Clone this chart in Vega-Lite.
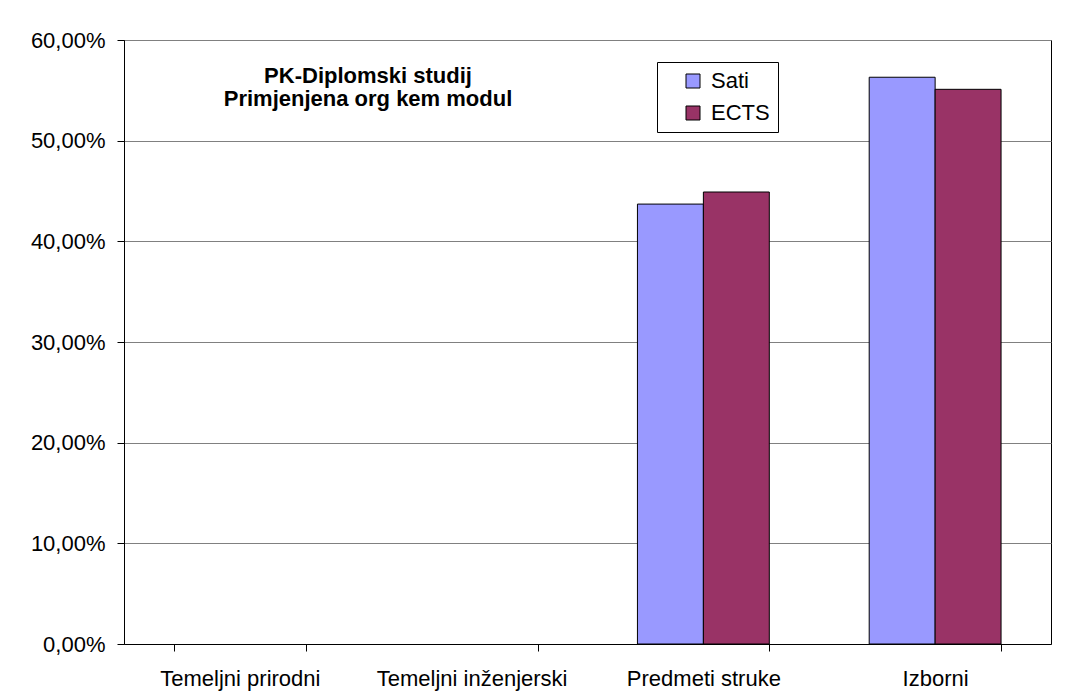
{
  "$schema": "https://vega.github.io/schema/vega-lite/v6.json",
  "width": 927,
  "height": 604,
  "autosize": {"type": "none"},
  "padding": {"left": 124, "top": 40, "right": 16, "bottom": 53},
  "background": "white",
  "config": {
    "locale": {"number": {"decimal": ",", "thousands": ".", "grouping": [3], "currency": ["", " kn"]}},
    "font": "Liberation Sans",
    "view": {"stroke": "black", "strokeWidth": 1}
  },
  "title": {
    "text": ["PK-Diplomski studij", "Primjenjena org kem modul"],
    "anchor": "start",
    "frame": "group",
    "align": "center",
    "dx": 244,
    "orient": "top",
    "baseline": "top",
    "offset": 0,
    "dy": 82,
    "fontSize": 22,
    "fontWeight": "bold",
    "lineHeight": 23,
    "color": "black",
    "font": "Liberation Sans"
  },
  "data": {
    "values": [
      {"kategorija": "Temeljni prirodni", "serija": "Sati", "udio": 0},
      {"kategorija": "Temeljni prirodni", "serija": "ECTS", "udio": 0},
      {"kategorija": "Temeljni inženjerski", "serija": "Sati", "udio": 0},
      {"kategorija": "Temeljni inženjerski", "serija": "ECTS", "udio": 0},
      {"kategorija": "Predmeti struke", "serija": "Sati", "udio": 0.437},
      {"kategorija": "Predmeti struke", "serija": "ECTS", "udio": 0.449},
      {"kategorija": "Izborni", "serija": "Sati", "udio": 0.563},
      {"kategorija": "Izborni", "serija": "ECTS", "udio": 0.551}
    ]
  },
  "mark": {"type": "bar", "stroke": "black", "strokeWidth": 1, "opacity": 1},
  "encoding": {
    "x": {
      "field": "kategorija",
      "type": "nominal",
      "sort": ["Temeljni prirodni", "Temeljni inženjerski", "Predmeti struke", "Izborni"],
      "scale": {"paddingInner": 0.431, "paddingOuter": 0.2155},
      "axis": {
        "title": null,
        "labelAngle": 0,
        "labelFontSize": 22,
        "labelColor": "black",
        "labelPadding": 17,
        "tickBand": "extent",
        "tickSize": 7,
        "tickColor": "black",
        "domainColor": "black",
        "grid": false,
        "labelLimit": 300
      }
    },
    "xOffset": {"field": "serija", "type": "nominal", "sort": ["Sati", "ECTS"]},
    "y": {
      "field": "udio",
      "type": "quantitative",
      "scale": {"domain": [0, 0.6], "nice": false},
      "axis": {
        "title": null,
        "values": [0, 0.1, 0.2, 0.3, 0.4, 0.5, 0.6],
        "format": ".2%",
        "labelFontSize": 22,
        "labelColor": "black",
        "labelPadding": 12,
        "tickSize": 7,
        "tickColor": "black",
        "domainColor": "black",
        "gridColor": "#808080",
        "gridWidth": 1,
        "gridOpacity": 1
      }
    },
    "strokeOpacity": {"condition": {"test": "datum.udio > 0", "value": 1}, "value": 0},
    "color": {
      "field": "serija",
      "type": "nominal",
      "sort": ["Sati", "ECTS"],
      "scale": {"domain": ["Sati", "ECTS"], "range": ["#9999FF", "#993366"]},
      "legend": {
        "title": null,
        "orient": "none",
        "legendX": 533,
        "legendY": 22,
        "strokeColor": "black",
        "fillColor": "white",
        "padding": 8,
        "symbolType": "square",
        "symbolSize": 196,
        "symbolStrokeColor": "black",
        "symbolStrokeWidth": 1,
        "symbolOpacity": 1,
        "symbolOffset": 17,
        "labelFontSize": 22,
        "labelColor": "black",
        "labelOffset": 7,
        "rowPadding": 10,
        "labelExpr": "datum.label + '  '"
      }
    }
  }
}
